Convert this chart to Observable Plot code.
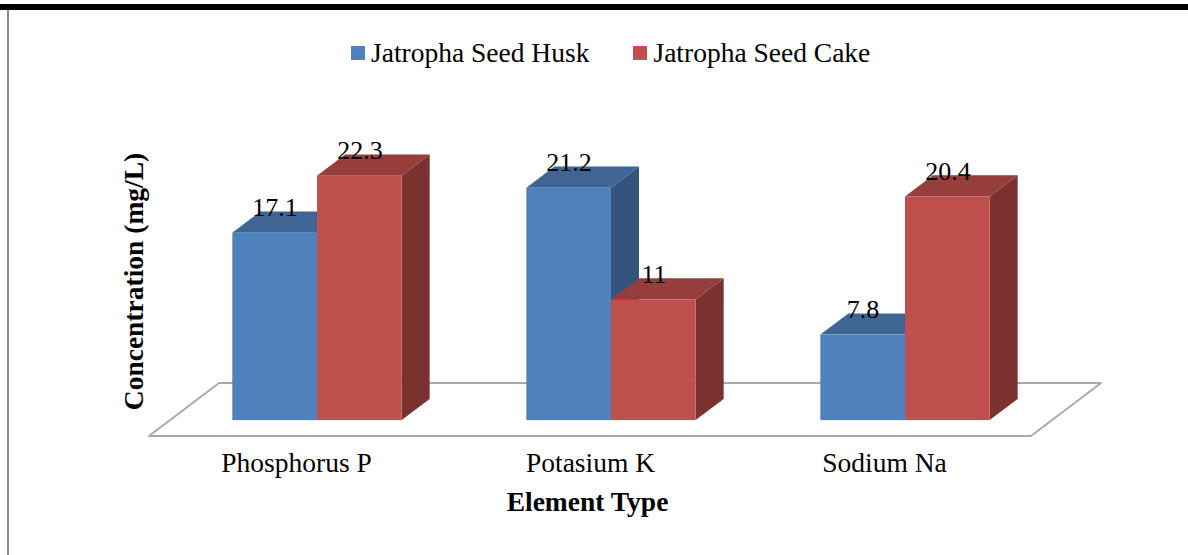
<!DOCTYPE html>
<html>
<head>
<meta charset="utf-8">
<script src="https://cdn.jsdelivr.net/npm/d3@7"></script>
<script src="https://cdn.jsdelivr.net/npm/@observablehq/plot@0.6"></script>
<style>
  body { margin: 0; background: #fff; }
  #wrap { position: relative; width: 1188px; height: 555px; overflow: hidden; font-family: "Liberation Serif", serif; color: #000; }
  #topbar { position: absolute; left: 0; top: 4px; width: 1188px; height: 6px; background: #000; }
  #leftbar { position: absolute; left: 7px; top: 10px; width: 2px; height: 545px; background: #8a8a8a; }
  #legend { box-sizing: border-box; height: 70px; padding-top: 36px; padding-left: 351px; display: flex; align-items: center; font-size: 27.5px; line-height: 28px; white-space: nowrap; }
  #legend .item { display: flex; align-items: center; margin-right: 44px; }
  #legend .sw { display: inline-block; width: 14px; height: 14px; margin-right: 6px; }
  #chart svg { display: block; }
</style>
</head>
<body>
<div id="wrap">
  <div id="legend"></div>
  <div id="chart"></div>
  <div id="topbar"></div>
  <div id="leftbar"></div>
</div>
<script>
// ---- data ----
const categories = ["Phosphorus P", "Potasium K", "Sodium Na"];
const seriesNames = ["Jatropha Seed Husk", "Jatropha Seed Cake"];
const huskValues = [17.1, 21.2, 7.8];
const cakeValues = [22.3, 11, 20.4];
const xTitle = "Element Type";
const yTitle = "Concentration (mg/L)";

// ---- styles ----
const faceColors = [
  { front: "#4F81BD", top: "#3E6594", side: "#33547D" },
  { front: "#C0504D", top: "#953E3C", side: "#7B3130" }
];
const FLOOR_DX = 70, FLOOR_DY = 53;      // depth of the floor in pixels
const BAR_DEPTH0 = 0.3, BAR_DEPTH1 = 0.7; // bars sit in the middle of the floor depth
const BAR_FRAC = 0.288;                   // bar width as fraction of the band

const rows = categories.flatMap((c, i) => [
  { category: c, series: 0, value: huskValues[i] },
  { category: c, series: 1, value: cakeValues[i] }
]);

// ---- legend ----
const legend = document.getElementById("legend");
seriesNames.forEach((name, i) => {
  const item = document.createElement("span");
  item.className = "item";
  const sw = document.createElement("span");
  sw.className = "sw";
  sw.style.background = faceColors[i].front;
  item.appendChild(sw);
  item.appendChild(document.createTextNode(name));
  legend.appendChild(item);
});

function bandInfo(x, dimensions) {
  return typeof x.bandwidth === "function" ? x.bandwidth()
    : (dimensions.width - dimensions.marginLeft - dimensions.marginRight) / categories.length;
}

function floorMark(index, scales, values, dimensions) {
  const { x, y } = scales;
  const bw = bandInfo(x, dimensions);
  const x0 = x(categories[0]);
  const x1 = x(categories[categories.length - 1]) + bw;
  const y0 = y(0);
  const g = d3.create("svg:g");
  g.append("path")
    .attr("d", `M${x0},${y0}L${x1},${y0}L${x1 + FLOOR_DX},${y0 - FLOOR_DY}L${x0 + FLOOR_DX},${y0 - FLOOR_DY}Z`)
    .attr("fill", "#fff")
    .attr("stroke", "#a9a9a9")
    .attr("stroke-width", 2)
    .attr("stroke-linejoin", "round");
  return g.node();
}

function barsMark(index, scales, values, dimensions) {
  const { x, y } = scales;
  const bw = bandInfo(x, dimensions);
  const barW = bw * BAR_FRAC;
  const fdx = FLOOR_DX * BAR_DEPTH0, fdy = FLOOR_DY * BAR_DEPTH0;
  const sx = FLOOR_DX * (BAR_DEPTH1 - BAR_DEPTH0), sy = FLOOR_DY * (BAR_DEPTH1 - BAR_DEPTH0);
  const g = d3.create("svg:g");
  for (const r of rows) {
    const c = x(r.category) + bw / 2;
    const xl = c + fdx + (r.series === 0 ? -barW : 0);
    const xr = xl + barW;
    const yb = y(0) - fdy;
    const yt = y(r.value) - fdy;
    const col = faceColors[r.series];
    g.append("path")
      .attr("d", `M${xr},${yt}L${xr + sx},${yt - sy}L${xr + sx},${yb - sy}L${xr},${yb}Z`)
      .attr("fill", col.side);
    g.append("path")
      .attr("d", `M${xl},${yt}L${xr},${yt}L${xr + sx},${yt - sy}L${xl + sx},${yt - sy}Z`)
      .attr("fill", col.top);
    g.append("rect")
      .attr("x", xl).attr("y", yt)
      .attr("width", barW).attr("height", yb - yt)
      .attr("fill", col.front);
  }
  return g.node();
}

const huskRows = rows.filter(r => r.series === 0);
const cakeRows = rows.filter(r => r.series === 1);

const chart = Plot.plot({
  width: 1188,
  height: 485,
  marginLeft: 148,
  marginRight: 156,
  marginTop: 92,
  marginBottom: 119,
  x: { type: "band", domain: categories, padding: 0, axis: null },
  y: { domain: [0, 25], axis: null },
  style: { fontFamily: "'Liberation Serif', serif", background: "transparent", color: "#000", overflow: "visible" },
  marks: [
    floorMark,
    barsMark,
    Plot.text(huskRows, { x: "category", y: "value", text: d => String(d.value), dx: -21.5, dy: -41, fontSize: 26, fill: "#000" }),
    Plot.text(cakeRows, { x: "category", y: "value", text: d => String(d.value), dx: 63.5, dy: -41, fontSize: 26, fill: "#000" }),
    Plot.text(categories, { x: d => d, frameAnchor: "bottom", dy: 35, fontSize: 27.5, fill: "#000" }),
    Plot.text([xTitle], { frameAnchor: "bottom", dx: -3, dy: 74, fontSize: 27.5, fontWeight: "bold", fill: "#000" }),
    Plot.text([yTitle], { frameAnchor: "left", textAnchor: "middle", rotate: -90, dx: -14, dy: -18, fontSize: 27.5, fontWeight: "bold", fill: "#000" })
  ]
});
document.getElementById("chart").appendChild(chart);
</script>
</body>
</html>
